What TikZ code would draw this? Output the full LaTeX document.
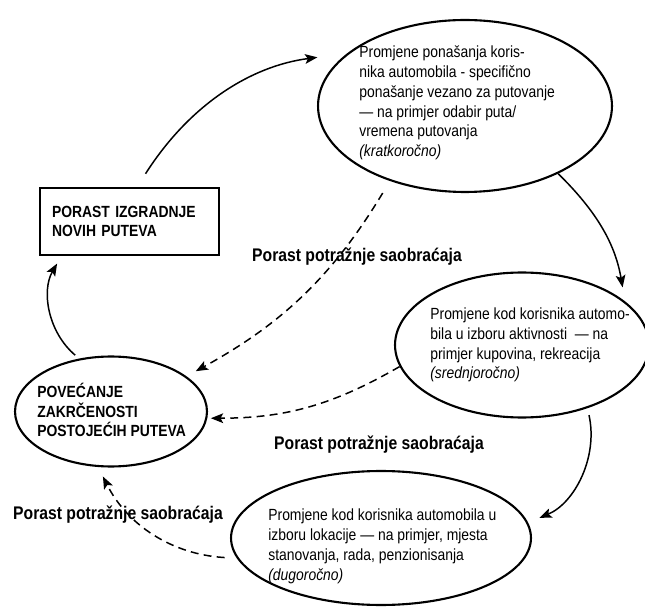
\documentclass[tikz,border=0pt]{standalone}
\usepackage{fontspec}
\setmainfont{Liberation Sans}[FakeStretch=0.86]
\usetikzlibrary{arrows.meta,shapes.geometric}
\tikzset{
  effect/.style={ellipse, draw, line width=1.2pt, inner sep=0pt},
  roadbox/.style={rectangle, draw, line width=1.1pt, inner xsep=0.24cm, text width=3.1cm,
    minimum height=1.34cm, align=left, font=\fontsize{9.2}{11.3}\selectfont\bfseries},
  txt/.style={anchor=west, inner sep=0pt, align=left, font=\fontsize{9.2}{11.3}\selectfont},
  flow/.style={-{Stealth[length=7pt, width=5.5pt, inset=1.5pt]}, line width=0.85pt},
  demand/.style={flow, dash pattern=on 4.5pt off 3pt},
  lbl/.style={font=\fontsize{10.4}{12}\selectfont\bfseries},
}

\begin{document}
\begin{tikzpicture}[x=0.02cm, y=-0.02cm]
  \useasboundingbox (0,0) rectangle (645,614);
  % ellipses
  \node[effect, minimum width=5.88cm, minimum height=3.44cm] (short) at (465,106) {};
  \node[effect, minimum width=5.08cm, minimum height=2.9cm] (medium) at (522,345) {};
  \node[effect, minimum width=6.0cm, minimum height=2.68cm] (long) at (381,538) {};
  \node[effect, minimum width=3.84cm, minimum height=2.2cm] (cong) at (111,411.5) {};
  \node[roadbox] (roads) at (129.5,221.5) {PORAST IZGRADNJE\\NOVIH PUTEVA};
  % texts
  \node[txt] (short-t) at (359,103) {Promjene ponašanja koris-\\nika automobila - specifično\\ponašanje vezano za putovanje\\— na primjer odabir puta/\\vremena putovanja\\\textit{(kratkoročno)}};
  \node[txt] (medium-t) at (430,345) {Promjene kod korisnika automo-\\bila u izboru aktivnosti \ — na\\primjer kupovina, rekreacija\\\textit{(srednjoročno)}};
  \node[txt] (long-t) at (268,546.5) {Promjene kod korisnika automobila u\\izboru lokacije — na primjer, mjesta\\stanovanja, rada, penzionisanja\\\textit{(dugoročno)}};
  \node[txt, font=\fontsize{9.2}{11.3}\selectfont\bfseries] (cong-t) at (37,410) {POVEĆANJE\\ZAKRČENOSTI\\POSTOJEĆIH PUTEVA};
  % labels
  \node[lbl] (dem1) at (357,257) {Porast potražnje saobraćaja};
  \node[lbl] (dem2) at (379,445) {Porast potražnje saobraćaja};
  \node[lbl] (dem3) at (118,515) {Porast potražnje saobraćaja};
  % cycle
  \draw[flow, shorten <=9pt, shorten >=17pt] ([xshift=4.3pt]roads.north) to[bend left=25] (short.156);
  \draw[flow, shorten >=8pt] (short.-36) to[bend left=18] (medium.23);
  \draw[flow, shorten <=4pt, shorten >=7pt] (medium.-44) to[bend left=40] (long.6);
  \draw[flow, shorten <=3pt, shorten >=5pt] (cong.121) to[bend left=40] ([xshift=12.8pt]roads.south west);
  % demand growth
  \draw[demand, shorten <=8pt, shorten >=6pt] (short.225) to[bend left=15] (cong.25);
  \draw[demand, shorten >=2pt] (medium.190) to[bend left=15] (cong.-4);
  \draw[demand, shorten <=7pt, shorten >=6pt] (long.188) to[bend left=30] (cong.257);
\end{tikzpicture}
\end{document}
